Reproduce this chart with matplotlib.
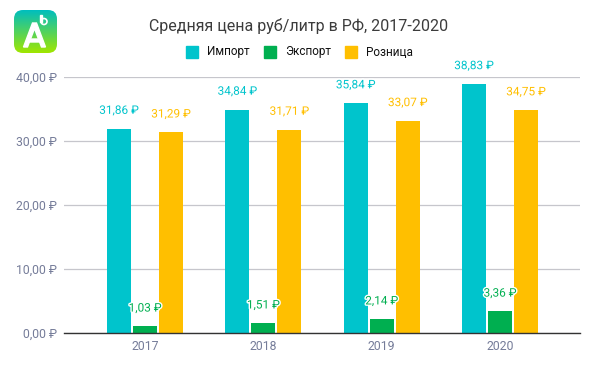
import matplotlib
matplotlib.use("Agg")
import matplotlib.pyplot as plt
import matplotlib.patheffects as pe
from matplotlib.patches import FancyBboxPatch, Polygon, Circle
import numpy as np

years = ["2017", "2018", "2019", "2020"]
import_price = [31.86, 34.84, 35.84, 38.83]
export_price = [1.03, 1.51, 2.14, 3.36]
retail_price = [31.29, 31.71, 33.07, 34.75]
y_ticks = [0, 10, 20, 30, 40]

IMPORT_COLOR = "#00C4CC"
EXPORT_COLOR = "#00AF50"
RETAIL_COLOR = "#FFBF00"
TICK_COLOR = "#757C99"

plt.rcParams["font.family"] = ["Roboto", "DejaVu Sans"]


def rub(value):
    return "{:.2f} ₽".format(value).replace(".", ",")


W, H = 598, 368
GROUP = 118.33
fig = plt.figure(figsize=(W / 100, H / 100), dpi=100)
ax = fig.add_axes([64 / W, 1 - 333 / H, 516 / W, (333 - 76.5) / H])

x = np.arange(len(years))
bar_w = 24 / GROUP
step = 26 / GROUP
series = [(import_price, IMPORT_COLOR, "Импорт"),
          (export_price, EXPORT_COLOR, "Экспорт"),
          (retail_price, RETAIL_COLOR, "Розница")]

for i, (values, color, name) in enumerate(series):
    pos = x + (i - 1) * step
    ax.bar(pos, values, width=bar_w, color=color, zorder=2)
    for px, v in zip(pos, values):
        ax.annotate(rub(v), (px, v), xytext=(0, 13.2), textcoords="offset points",
                    ha="center", va="center", fontsize=8.5, color=color, zorder=4,
                    path_effects=[pe.withStroke(linewidth=2, foreground="white")])

ax.set_xlim(-81 / GROUP, 3 + 80 / GROUP)
ax.set_ylim(0, 40)
ax.set_xticks(x)
ax.set_xticklabels(years)
ax.set_yticks(y_ticks)
ax.set_yticklabels([rub(v) for v in y_ticks])
ax.tick_params(length=0, labelsize=8.8, labelcolor=TICK_COLOR)
ax.tick_params(axis="x", pad=5)
ax.tick_params(axis="y", pad=5)
ax.grid(axis="y", color="#C6C6CC", linewidth=0.9, zorder=1)
ax.set_axisbelow(True)
for side in ["top", "right", "left"]:
    ax.spines[side].set_visible(False)
ax.spines["bottom"].set_color("#333333")
ax.spines["bottom"].set_linewidth(1)

fig.text(298.5 / W, 1 - 26 / H, "Средняя цена руб/литр в РФ, 2017-2020", ha="center", va="center",
         fontsize=11.5, color="#3C3C3C")

# legend drawn by hand to keep the squares where they are in the original
for (values, color, name), sx in zip(series, [186, 264, 345]):
    fig.patches.append(plt.Rectangle((sx / W, 1 - 58 / H), 12 / W, 12 / H, color=color,
                                     transform=fig.transFigure))
    fig.text((sx + 21) / W, 1 - 52 / H, name, ha="left", va="center", fontsize=8.5, color="#111111")

# logo
logo = fig.add_axes([14 / W, 1 - 53 / H, 43 / W, 43 / H])
grad = np.linspace(0, 1, 64).reshape(-1, 1)
top = np.array([0, 190, 190]) / 255
bottom = np.array([160, 230, 0]) / 255
im = logo.imshow(top + (bottom - top) * grad[..., None], extent=(0, 43, 43, 0), aspect="auto")
clip = FancyBboxPatch((9, 9), 25, 25, boxstyle="round,pad=9,rounding_size=9", transform=logo.transData,
                      facecolor="none", edgecolor="none")
logo.add_patch(clip)
im.set_clip_path(clip)
logo.add_patch(Polygon([[9.5, 37], [18.5, 13], [22.5, 13], [31.5, 37], [27.5, 37], [20.5, 18.5], [13.5, 37]], color="white"))
logo.add_patch(Polygon([[16.5, 29], [24.5, 29], [25.5, 32], [15.5, 32]], color="white"))
logo.add_patch(Circle((30, 11.5), 3, facecolor="none", edgecolor="white", linewidth=1.2))
logo.add_patch(Polygon([[26.2, 5], [27.6, 5], [27.6, 12], [26.2, 12]], color="white"))
logo.set_xlim(0, 43)
logo.set_ylim(43, 0)
logo.axis("off")

fig.savefig("out.png", dpi=100)
